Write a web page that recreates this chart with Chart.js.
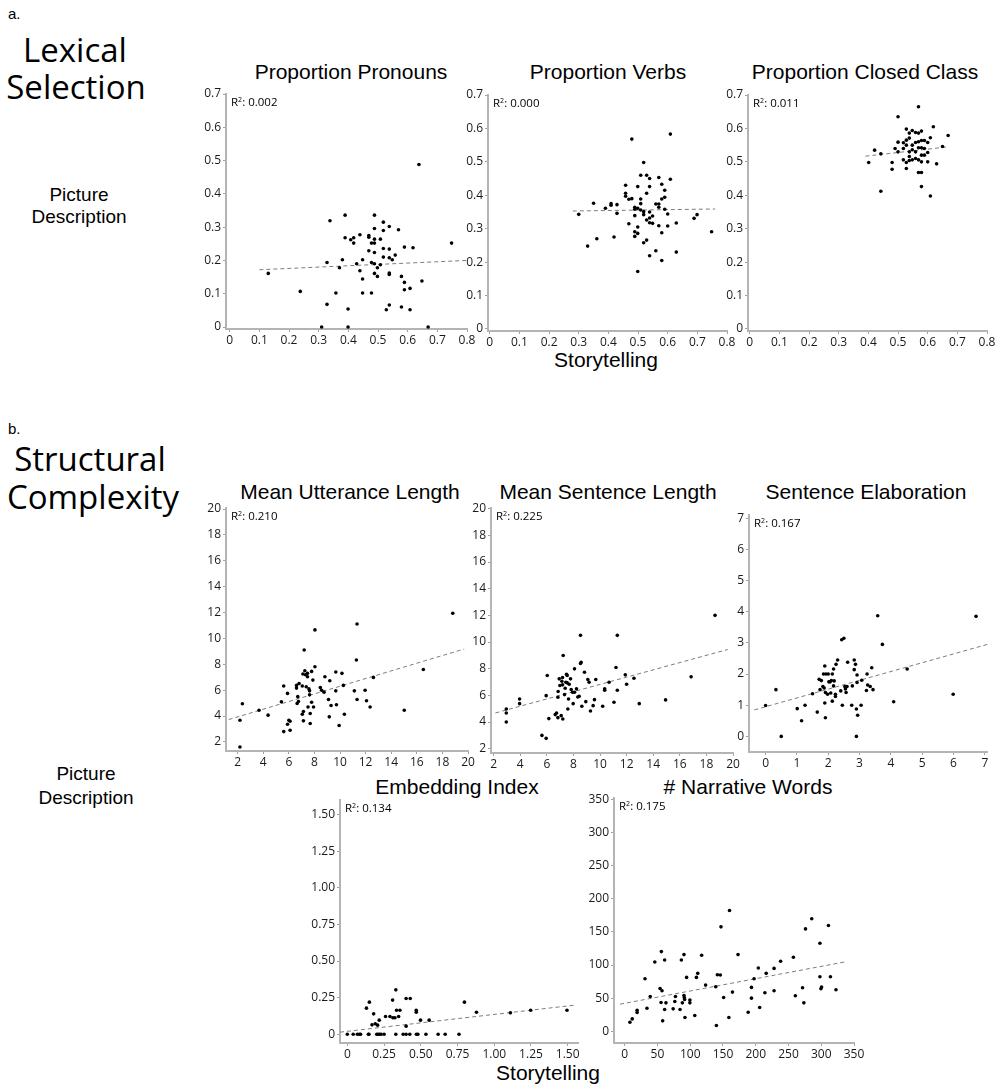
<!DOCTYPE html>
<html><head><meta charset="utf-8">
<script src="https://cdn.jsdelivr.net/npm/chart.js@4.4.0/dist/chart.umd.min.js"></script>
<style>
html,body{margin:0;padding:0;background:#fff;}
body{width:1007px;height:1089px;position:relative;overflow:hidden;}
.t{position:absolute;white-space:nowrap;color:#000;line-height:1;}
canvas{position:absolute;}
</style></head><body>
<script>
// ---------- DATA ----------
const propTicks = [0,0.1,0.2,0.3,0.4,0.5,0.6,0.7];
const propTickLabels = ['0','0.1','0.2','0.3','0.4','0.5','0.6','0.7'];
const propXTicks = [0,0.1,0.2,0.3,0.4,0.5,0.6,0.7,0.8];
const propXTickLabels = ['0','0.1','0.2','0.3','0.4','0.5','0.6','0.7','0.8'];
const lenTicks = [2,4,6,8,10,12,14,16,18,20];
const lenTickLabels = ['2','4','6','8','10','12','14','16','18','20'];
const elabTicks = [0,1,2,3,4,5,6,7];
const elabTickLabels = ['0','1','2','3','4','5','6','7'];
const embedTicks = [0,0.25,0.5,0.75,1,1.25,1.5];
const embedTickLabels = ['0','0.25','0.50','0.75','1.00','1.25','1.50'];
const narrTicks = [0,50,100,150,200,250,300,350];
const narrTickLabels = ['0','50','100','150','200','250','300','350'];

const pronounsPts = [[0.13,0.161],[0.238,0.107],[0.31,0],[0.328,0.068],[0.328,0.194],[0.338,0.319],[0.358,0.102],[0.37,0.178],[0.38,0.202],[0.389,0.336],[0.389,0.268],[0.399,0.054],[0.399,0],[0.408,0.262],[0.418,0.268],[0.418,0.252],[0.428,0.19],[0.439,0.277],[0.439,0.169],[0.448,0.202],[0.448,0.144],[0.448,0.102],[0.469,0.275],[0.469,0.27],[0.469,0.229],[0.478,0.252],[0.478,0.194],[0.478,0.102],[0.488,0.336],[0.488,0.296],[0.488,0.264],[0.488,0.252],[0.488,0.224],[0.488,0.19],[0.488,0.161],[0.498,0.178],[0.498,0.152],[0.508,0.264],[0.508,0.187],[0.518,0.315],[0.518,0.29],[0.518,0.236],[0.518,0.21],[0.528,0.052],[0.538,0.302],[0.538,0.234],[0.538,0.208],[0.538,0.162],[0.538,0.158],[0.538,0.066],[0.548,0.202],[0.558,0.216],[0.569,0.292],[0.579,0.152],[0.579,0.06],[0.589,0.24],[0.589,0.134],[0.589,0.112],[0.608,0.116],[0.608,0.052],[0.618,0.238],[0.638,0.488],[0.648,0.138],[0.669,0],[0.748,0.252]];
const pronounsFit = [[0.1,0.172],[0.8,0.2]];

const verbsPts = [[0.3,0.343],[0.33,0.248],[0.35,0.376],[0.361,0.27],[0.39,0.361],[0.409,0.375],[0.409,0.37],[0.419,0.275],[0.429,0.372],[0.429,0.346],[0.458,0.43],[0.458,0.406],[0.458,0.397],[0.469,0.388],[0.469,0.315],[0.479,0.568],[0.479,0.39],[0.489,0.364],[0.489,0.358],[0.489,0.339],[0.489,0.291],[0.489,0.277],[0.499,0.426],[0.499,0.361],[0.499,0.305],[0.499,0.286],[0.499,0.172],[0.509,0.46],[0.509,0.389],[0.509,0.375],[0.509,0.356],[0.519,0.498],[0.519,0.351],[0.519,0.342],[0.519,0.258],[0.529,0.46],[0.529,0.406],[0.529,0.326],[0.529,0.266],[0.539,0.45],[0.539,0.426],[0.539,0.35],[0.539,0.332],[0.539,0.318],[0.539,0.219],[0.549,0.338],[0.549,0.316],[0.56,0.374],[0.56,0.234],[0.57,0.453],[0.57,0.374],[0.57,0.364],[0.57,0.309],[0.58,0.433],[0.58,0.389],[0.58,0.288],[0.58,0.205],[0.59,0.415],[0.59,0.394],[0.59,0.358],[0.6,0.344],[0.6,0.308],[0.609,0.583],[0.609,0.448],[0.629,0.317],[0.629,0.23],[0.689,0.331],[0.699,0.342],[0.748,0.291]];
const verbsFit = [[0.28,0.353],[0.76,0.359]];

const closedPts = [[0.401,0.498],[0.421,0.535],[0.442,0.412],[0.442,0.524],[0.48,0.498],[0.48,0.478],[0.49,0.54],[0.5,0.635],[0.5,0.559],[0.5,0.53],[0.518,0.557],[0.518,0.54],[0.518,0.506],[0.528,0.598],[0.528,0.565],[0.528,0.55],[0.528,0.498],[0.528,0.48],[0.538,0.571],[0.538,0.586],[0.538,0.53],[0.538,0.516],[0.538,0.504],[0.548,0.594],[0.548,0.55],[0.548,0.536],[0.548,0.506],[0.559,0.588],[0.559,0.558],[0.559,0.53],[0.559,0.51],[0.569,0.665],[0.569,0.586],[0.569,0.56],[0.569,0.542],[0.569,0.506],[0.569,0.468],[0.579,0.592],[0.579,0.564],[0.579,0.542],[0.579,0.52],[0.579,0.5],[0.579,0.468],[0.579,0.426],[0.589,0.564],[0.589,0.54],[0.589,0.52],[0.6,0.558],[0.6,0.528],[0.6,0.5],[0.609,0.572],[0.609,0.398],[0.619,0.605],[0.63,0.494],[0.65,0.546],[0.669,0.579]];
const closedFit = [[0.39,0.517],[0.67,0.545]];

const mluPts = [[2.18,1.61],[2.18,3.68],[2.37,4.95],[3.67,4.45],[4.38,4.07],[5.42,5.1],[5.6,6.32],[5.6,2.8],[5.9,5.75],[5.9,3.37],[6.0,3.68],[6.1,3.6],[6.1,2.9],[6.6,6.37],[6.6,6.16],[6.65,4.97],[6.7,5.5],[6.75,5.13],[6.8,6.52],[7.05,6.32],[7.1,7.25],[7.14,3.63],[7.14,4.35],[7.05,4.14],[7.2,9.1],[7.25,7.5],[7.3,7.19],[7.36,6.26],[7.46,7.3],[7.46,7.04],[7.5,4.7],[7.57,6.1],[7.62,5.95],[7.62,5.64],[7.67,4.2],[7.67,3.42],[7.78,7.45],[7.78,5.07],[7.88,6.78],[7.93,4.7],[8.04,10.66],[8.04,7.81],[8.46,6.2],[8.56,6.0],[8.75,5.85],[8.82,7.04],[9.1,5.28],[9.16,3.94],[9.2,6.73],[9.3,4.82],[9.67,7.4],[9.67,5.95],[9.72,4.87],[9.93,3.27],[10.15,7.3],[10.26,6.37],[10.34,4.14],[11.12,5.95],[11.28,8.33],[11.33,11.12],[11.33,5.28],[11.96,6.0],[12.07,5.18],[12.35,4.7],[12.61,6.99],[15.02,4.45],[16.51,7.6],[18.81,11.95]];
const mluFit = [[1.3,3.73],[19.7,9.18]];

const mslPts = [[2.95,4.98],[2.95,4.68],[2.95,4.0],[3.95,5.73],[3.95,5.38],[5.63,3.0],[5.95,2.78],[5.95,5.98],[6.03,7.49],[6.15,4.26],[6.63,4.56],[6.73,4.68],[6.83,4.33],[6.83,5.86],[6.85,6.29],[6.93,7.24],[6.98,6.74],[7.08,4.48],[7.13,7.06],[7.18,7.34],[7.18,6.79],[7.2,4.23],[7.23,8.99],[7.33,6.06],[7.38,6.54],[7.43,6.99],[7.48,7.59],[7.53,7.49],[7.53,6.94],[7.58,4.98],[7.63,5.73],[7.68,6.84],[7.78,7.24],[7.83,6.44],[7.93,6.24],[7.98,5.38],[8.08,7.99],[8.08,6.24],[8.23,6.49],[8.33,5.88],[8.43,5.93],[8.53,10.5],[8.53,8.39],[8.58,8.49],[8.63,5.18],[8.83,7.74],[8.93,5.53],[9.08,7.19],[9.18,6.99],[9.28,4.83],[9.48,5.23],[9.58,5.68],[9.68,7.19],[10.2,5.18],[10.35,6.49],[10.35,6.39],[10.68,6.99],[11.05,5.48],[11.2,8.09],[11.3,10.5],[11.3,6.39],[11.9,7.54],[12.0,6.84],[12.55,7.29],[12.95,5.38],[14.93,5.66],[16.85,7.39],[18.65,12.0]];
const mslFit = [[2.13,4.68],[19.6,9.44]];

const elabPts = [[0,0.99],[0.33,1.5],[0.5,0],[1.01,0.89],[1.15,0.5],[1.26,1.0],[1.5,1.37],[1.65,0.78],[1.71,1.83],[1.74,1.5],[1.78,1.79],[1.83,1.6],[1.85,2.0],[1.87,1.55],[1.89,2.26],[1.89,1.07],[1.91,0.6],[1.91,1.41],[1.93,2.0],[1.98,1.35],[2.0,2.0],[2.02,1.75],[2.06,1.75],[2.08,1.39],[2.1,1.79],[2.13,2.0],[2.13,1.13],[2.17,2.16],[2.17,1.62],[2.19,1.78],[2.23,1.35],[2.23,1.28],[2.25,2.31],[2.3,2.45],[2.4,1.46],[2.43,3.1],[2.45,1.0],[2.5,3.15],[2.53,1.6],[2.55,1.52],[2.57,1.41],[2.6,1.6],[2.62,2.38],[2.75,1.0],[2.77,1.62],[2.83,2.45],[2.83,2.14],[2.87,2.31],[2.9,0],[2.9,0.88],[2.92,1.97],[2.92,1.73],[2.94,0.68],[3.05,1.0],[3.07,1.8],[3.22,1.47],[3.24,2.0],[3.26,1.65],[3.34,1.6],[3.39,2.2],[3.43,1.5],[3.58,3.87],[3.73,2.95],[4.09,1.11],[4.52,2.16],[5.99,1.35],[6.72,3.85]];
const elabFit = [[-0.36,0.85],[7.08,2.95]];

const embedPts = [[0,0],[0.04,0],[0.068,0],[0.082,0],[0.09,0],[0.143,0],[0.147,0],[0.2,0],[0.21,0],[0.22,0],[0.23,0],[0.25,0],[0.33,0],[0.38,0],[0.4,0],[0.425,0],[0.47,0],[0.48,0],[0.535,0],[0.618,0],[0.666,0],[0.76,0],[0.13,0.178],[0.15,0.219],[0.168,0.064],[0.179,0.139],[0.19,0.071],[0.206,0.062],[0.217,0.096],[0.26,0.121],[0.29,0.121],[0.308,0.233],[0.31,0.112],[0.324,0.112],[0.33,0.303],[0.335,0.164],[0.349,0.121],[0.358,0.164],[0.4,0.244],[0.4,0.055],[0.428,0.244],[0.469,0.164],[0.469,0.15],[0.498,0.096],[0.557,0.096],[0.797,0.219],[0.879,0.15],[1.11,0.146],[1.248,0.164],[1.495,0.164]];
const embedFit = [[-0.05,0.014],[1.56,0.2]];

const narrPts = [[8,13.6],[11.5,18.7],[19,28.3],[19,31.8],[31,79.3],[34,34.8],[39,52.5],[46,104.5],[54,64.6],[55.5,43.4],[56,120.2],[57,61.1],[58,15.7],[61,107.6],[61,32.8],[63,42.9],[74,33.8],[76.5,44.9],[77.5,52.5],[84.5,32.8],[86.5,107.6],[88,42.9],[90.5,115.7],[90.5,54],[91,51],[91.5,48],[92,20.7],[94.5,81.3],[99.5,47],[99.5,42.9],[107,23.7],[109.5,81.3],[111.5,87.4],[117.5,114.6],[123.5,69.7],[139,67.2],[140,8.6],[141.5,85.4],[146,84.8],[147,157.6],[151,51],[159,20.7],[160,182.3],[164.5,59.1],[173,115.7],[188.5,28.8],[193.5,66.2],[193.5,50],[197.5,79.3],[204,95.5],[206,35.9],[214,58.1],[216,87.4],[228,94.9],[228,61.1],[238,105.6],[257.5,111.6],[260.5,53.5],[271.5,65.7],[273.5,42.9],[276,154.5],[285.5,169.7],[298,132.8],[298,82.3],[299.5,64.1],[300.5,66.7],[311,159.6],[314,82.3],[322.5,62.6]];
const narrFit = [[-7,40.9],[338,105]];

// ---------- TEXT ----------
const K = {arial:0.8465, open:0.888};
function txt(str, x, base, size, fam, align){
  const d = document.createElement('div');
  d.className = 't';
  const famName = fam === 'open' ? "'Open Sans'" : "'Liberation Sans'";
  d.style.fontFamily = famName;
  d.style.fontSize = size + 'px';
  d.style.top = (base - K[fam]*size) + 'px';
  d.style.left = x + 'px';
  if (align === 'center') d.style.transform = 'translateX(-50%)';
  d.innerHTML = str;
  document.body.appendChild(d);
}
function r2(val, x, base){
  txt('R<span style="font-size:7px;position:relative;top:-4px">2</span>: ' + val, x, base, 11.5, 'open');
}

txt('a.', 8, 19, 15, 'arial');
txt('Lexical', 75, 62, 33, 'open', 'center');
txt('Selection', 76, 99, 33, 'open', 'center');
txt('Picture', 79, 201, 19, 'arial', 'center');
txt('Description', 79, 223, 19, 'arial', 'center');
txt('Proportion Pronouns', 351, 79, 21, 'arial', 'center');
txt('Proportion Verbs', 608, 79, 21, 'arial', 'center');
txt('Proportion Closed Class', 865, 79, 21, 'arial', 'center');
txt('Storytelling', 606, 367, 21, 'arial', 'center');

txt('b.', 8, 434, 15, 'arial');
txt('Structural', 90, 471, 33, 'open', 'center');
txt('Complexity', 93, 509, 33, 'open', 'center');
txt('Picture', 86, 780, 19, 'arial', 'center');
txt('Description', 86, 804, 19, 'arial', 'center');
txt('Mean Utterance Length', 350, 499, 21, 'arial', 'center');
txt('Mean Sentence Length', 608, 499, 21, 'arial', 'center');
txt('Sentence Elaboration', 866, 499, 21, 'arial', 'center');
txt('Embedding Index', 457, 794, 21, 'arial', 'center');
txt('# Narrative Words', 748, 794, 21, 'arial', 'center');
txt('Storytelling', 548, 1080, 21, 'arial', 'center');

// ---------- CHARTS ----------
const tickFont = {family:"'Open Sans'", size:12};
function panel(p){
  const yW = 40, xH = 22, padL = 2, padR = 16, padT = 10, padB = 2;
  const b = p.box;
  const w = b.R - b.L + yW + padL + padR;
  const h = b.B - b.T + padT + xH + padB;
  const c = document.createElement('canvas');
  c.width = w; c.height = h;
  c.style.left = (b.L - yW - padL) + 'px';
  c.style.top = (b.T - padT) + 'px';
  c.style.width = w + 'px'; c.style.height = h + 'px';
  document.body.appendChild(c);
  const axisCommon = {
    type:'linear',
    grid:{drawOnChartArea:false, tickLength:3, tickColor:'#a0a0a0', tickWidth:1},
    border:{color:'#b4b4b4', width:2}
  };
  new Chart(c, {
    type:'scatter',
    data:{datasets:[
      {data:p.pts.map(([x,y])=>({x,y})), pointRadius:1.8, pointBackgroundColor:'#000', pointBorderWidth:0, clip:false},
      {type:'line', data:p.fit.map(([x,y])=>({x,y})), borderColor:'#7c7c7c', borderWidth:1, borderDash:[4,3], pointRadius:0, fill:false, clip:false}
    ]},
    options:{
      responsive:false, animation:false, devicePixelRatio:1,
      layout:{padding:{left:padL,right:padR,top:padT,bottom:padB}},
      plugins:{legend:{display:false}, tooltip:{enabled:false}},
      scales:{
        x:Object.assign({}, axisCommon, {
          min:p.xr[0], max:p.xr[1],
          afterFit(s){ s.height = xH; },
          afterBuildTicks(s){ s.ticks = p.xt.map(v=>({value:v})); },
          ticks:{callback:(v,i)=>p.xl[i], font:tickFont, color:'#1a1a1a', padding:1, maxRotation:0, autoSkip:false}
        }),
        y:Object.assign({}, axisCommon, {
          min:p.yr[0], max:p.yr[1],
          afterFit(s){ s.width = yW; },
          afterBuildTicks(s){ s.ticks = p.yt.map(v=>({value:v})); },
          ticks:{callback:(v,i)=>p.yl[i], font:tickFont, color:'#1a1a1a', padding:2, autoSkip:false}
        })
      }
    }
  });
  r2(p.r2, b.L + 5, b.T + 12);
}

panel({box:{L:226,T:94,R:467,B:329}, xr:[-0.0125,0.8], yr:[-0.006,0.7], xt:propXTicks, xl:propXTickLabels, yt:propTicks, yl:propTickLabels, pts:pronounsPts, fit:pronounsFit, r2:'0.002'});
panel({box:{L:488,T:95,R:727,B:331}, xr:[-0.006,0.8], yr:[-0.006,0.7], xt:propXTicks, xl:propXTickLabels, yt:propTicks, yl:propTickLabels, pts:verbsPts, fit:verbsFit, r2:'0.000'});
panel({box:{L:748,T:95,R:987,B:331}, xr:[-0.006,0.8], yr:[-0.006,0.7], xt:propXTicks, xl:propXTickLabels, yt:propTicks, yl:propTickLabels, pts:closedPts, fit:closedFit, r2:'0.011'});
panel({box:{L:226,T:508,R:468,B:751}, xr:[1.09,20], yr:[1.3,20.08], xt:lenTicks, xl:lenTickLabels, yt:lenTicks, yl:lenTickLabels, pts:mluPts, fit:mluFit, r2:'0.210'});
panel({box:{L:491,T:508,R:733,B:753}, xr:[1.8,20], yr:[1.68,20.05], xt:lenTicks, xl:lenTickLabels, yt:lenTicks, yl:lenTickLabels, pts:mslPts, fit:mslFit, r2:'0.225'});
panel({box:{L:749,T:515,R:987,B:752}, xr:[-0.53,7.07], yr:[-0.5,7.1], xt:elabTicks, xl:elabTickLabels, yt:elabTicks, yl:elabTickLabels, pts:elabPts, fit:elabFit, r2:'0.167'});
panel({box:{L:340,T:800,R:578,B:1043}, xr:[-0.05,1.57], yr:[-0.06,1.6], xt:embedTicks, xl:embedTickLabels, yt:embedTicks, yl:embedTickLabels, pts:embedPts, fit:embedFit, r2:'0.134'});
panel({box:{L:614,T:798,R:854,B:1043}, xr:[-16.3,350], yr:[-17.7,352], xt:narrTicks, xl:narrTickLabels, yt:narrTicks, yl:narrTickLabels, pts:narrPts, fit:narrFit, r2:'0.175'});
</script>
</body></html>
